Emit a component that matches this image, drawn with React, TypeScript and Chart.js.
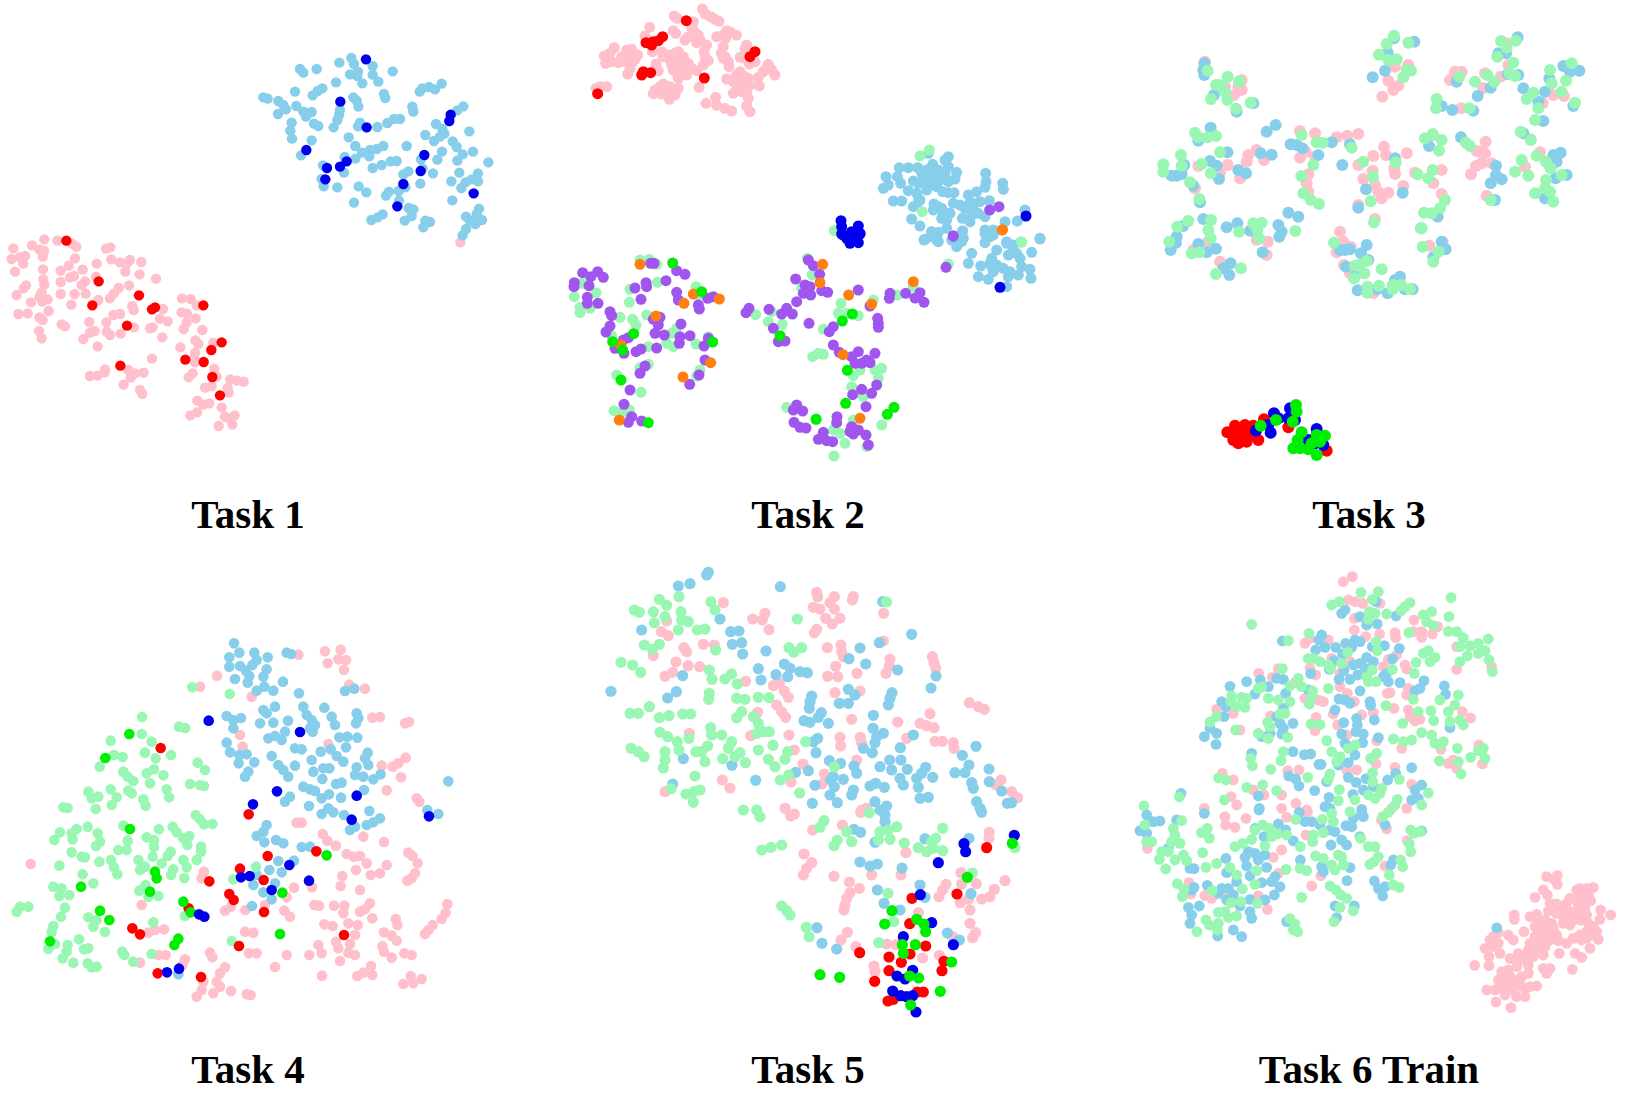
import React, { useEffect, useRef } from "react";
import { Chart, registerables } from "chart.js";
Chart.register(...registerables);

type P = number[];
const PINK = "#FFC0CB", SKY = "#87CEEB", MINT = "#99F6B3", RED = "#FF0000", BLUE = "#0000EE", LIME = "#00EE00", PURPLE = "#A055EE", ORANGE = "#FF8010";

const taskTitles = ["Task 1", "Task 2", "Task 3", "Task 4", "Task 5", "Task 6 Train"];

const t1Pink: P[] = [[40,655],[96,646],[133,628],[172,632],[119,659],[132,663],[215,640],[229,650],[128,680],[35,687],[60,681],[75,678],[70,701],[45,725],[129,718],[225,685],[206,707],[182,722],[248,719],[290,701],[318,656],[331,652],[334,688],[360,697],[390,690],[380,702],[424,696],[376,725],[419,733],[468,746],[130,748],[133,764],[182,756],[210,742],[222,738],[255,754],[245,765],[78,766],[71,775],[50,795],[125,787],[119,800],[143,808],[127,815],[93,817],[182,792],[224,792],[257,791],[214,824],[288,740],[295,810],[387,766],[356,774],[342,790],[330,805],[397,828],[401,840],[146,843],[55,852],[83,850],[118,862],[128,870],[340,855],[360,852],[268,876],[319,877],[402,892],[185,883],[195,889],[117,903],[125,925],[270,908],[284,903],[320,905],[330,915],[250,927],[362,911],[293,949],[458,892],[450,895],[480,866],[503,874],[489,837],[487,922],[546,805],[572,807],[590,826],[545,847],[561,851],[587,865],[560,878],[551,897],[607,900],[586,931],[595,942],[541,952],[640,938],[585,968],[583,985],[456,986],[585,997],[643,1017],[315,1018],[314,1027],[292,1037],[270,1038],[385,1020],[405,1030],[392,1043],[431,1028],[371,1064],[420,1080],[427,1092],[578,1030],[566,1042],[650,1040],[691,1048],[711,1052],[731,1055],[635,1068],[615,1073],[683,1074],[686,1088],[592,1112],[610,1124],[628,1120],[665,1132],[591,1147],[571,1156],[675,1160],[704,1156],[686,1165],[656,1188],[697,1184],[1381,637]];
const t1Sky: P[] = [[1054,84],[1062,102],[1018,98],[1118,108],[1178,124],[900,117],[910,128],[950,117],[1050,133],[1074,125],[1072,138],[1118,134],[1087,160],[1135,155],[1008,157],[967,175],[953,183],[938,196],[885,185],[790,202],[803,206],[835,213],[850,225],[858,238],[889,228],[1060,202],[1070,212],[1075,230],[1152,192],[1156,204],[1237,230],[1240,245],[1325,161],[1305,178],[1287,171],[1266,175],[1259,185],[1390,229],[1372,241],[1020,240],[1017,255],[1012,270],[1001,292],[910,245],[935,246],[918,260],[834,252],[875,278],[871,302],[876,326],[942,281],[955,288],[1080,278],[1074,289],[1132,291],[1162,279],[1182,267],[1200,267],[1308,282],[1327,297],[1333,311],[1320,320],[1302,333],[1276,315],[1408,304],[1046,322],[935,331],[903,376],[1066,348],[1086,368],[1066,386],[1034,381],[1110,360],[1130,357],[1150,348],[1108,379],[1220,348],[1358,334],[1370,351],[1326,365],[1388,373],[1419,365],[1372,392],[1312,389],[1263,388],[1465,397],[1118,414],[1145,405],[1172,394],[1190,393],[969,406],[1032,428],[965,447],[971,469],[1012,472],[1076,469],[1099,487],[1062,518],[1299,430],[1378,428],[1434,430],[1354,454],[1415,448],[1397,457],[1434,454],[1384,474],[1225,424],[1210,433],[1261,461],[1216,472],[1196,483],[1167,485],[1158,497],[1197,512],[1357,511],[1437,536],[1430,552],[1398,560],[1410,572],[1426,582],[1446,570],[1398,597],[1388,616],[1226,534],[1240,538],[1235,558],[1214,572],[1148,553],[1133,562],[1114,570],[1276,572],[1290,576],[1270,592],[1268,415]];
const t1Red: P[] = [[199,632],[296,754],[417,796],[277,826],[465,832],[456,838],[610,826],[381,887],[665,937],[634,960],[556,989],[611,996],[361,1007],[637,1041],[660,1096]];
const t1Blue: P[] = [[1098,88],[1021,215],[1100,292],[919,360],[1352,254],[1348,273],[1273,375],[1040,394],[1020,410],[981,414],[976,448],[1262,423],[1210,462],[1421,490],[1192,529]];

const t2aPink: P[] = [[427,27],[436,42],[452,50],[465,58],[477,64],[343,48],[352,55],[400,65],[396,85],[340,92],[347,100],[269,82],[255,108],[500,92],[470,110],[529,105],[415,105],[375,120],[385,110],[410,128],[440,135],[432,155],[497,115],[490,140],[484,160],[163,143],[133,168],[145,175],[137,190],[175,188],[215,148],[233,165],[205,165],[195,185],[215,190],[203,222],[210,205],[277,155],[305,155],[325,165],[355,155],[345,175],[365,210],[350,190],[385,190],[340,210],[365,180],[380,225],[355,235],[410,212],[445,182],[430,195],[288,192],[295,212],[490,175],[505,185],[507,200],[540,172],[560,135],[555,175],[585,185],[568,192],[625,193],[635,210],[645,225],[610,215],[595,232],[540,215],[500,237],[525,240],[545,250],[565,235],[545,275],[520,280],[565,295],[598,258],[417,262],[310,252],[300,260],[355,265],[345,285],[328,298],[280,281],[305,282],[320,275],[438,310],[467,292],[470,316],[495,325],[515,333],[560,318],[570,335],[140,260],[120,260],[108,265],[365,195],[375,205],[350,220],[360,225],[335,195],[370,170],[345,160],[330,180],[395,205],[530,225],[555,230],[530,255],[555,260],[570,255],[535,270],[520,245],[560,280],[185,170],[225,178],[200,150],[190,170],[150,160],[155,185],[310,170],[435,170],[495,170],[510,95],[490,105],[420,120],[402,95],[620,205],[575,175],[555,145],[285,270],[330,260],[340,275]];
const t2aSky: P[] = [[1165,470],[1105,460],[1155,480],[1018,503],[1045,503],[1073,503],[1118,493],[1100,510],[1135,510],[1165,500],[1190,517],[1185,537],[1165,545],[1012,530],[978,530],[985,555],[970,565],[1022,550],[1060,543],[1075,550],[1100,530],[1125,545],[1130,560],[1100,570],[1045,572],[1070,580],[1080,600],[1148,575],[1165,578],[1182,578],[1277,520],[1278,545],[1275,562],[1328,550],[1330,568],[1250,575],[1225,585],[1260,605],[1288,602],[1000,603],[1025,603],[1075,605],[1060,620],[1122,612],[1120,630],[1145,625],[1180,610],[1200,615],[1228,612],[1240,630],[1170,640],[1145,655],[1160,660],[1235,645],[1275,650],[1207,655],[1230,665],[1055,657],[1080,678],[1395,630],[1372,663],[1335,665],[1115,695],[1135,697],[1160,685],[1208,692],[1092,720],[1130,720],[1275,690],[1300,690],[1290,710],[1210,715],[1440,715],[1340,725],[1175,720],[1110,530],[1090,550],[1125,525],[1140,540],[1110,555],[1155,520],[1085,520],[1240,610],[1215,625],[1255,640],[1150,640],[1135,620]];
const t2aMint: P[] = [[1108,450],[1080,468],[1087,635],[823,692],[1383,725]];
const t2aPurple: P[] = [[1289,630],[1317,620],[1180,708]];
const t2aOrange: P[] = [[1327,689]];
const t2aRed: P[] = [[379,62],[308,110],[295,122],[280,125],[258,128],[275,135],[585,155],[570,170],[272,218],[245,225],[250,215],[433,234],[113,281]];
const t2aBlue: P[] = [[1398,648],[843,662],[845,680],[895,678],[875,695],[900,700],[850,705],[870,715],[890,715]];

const t2bSky: P[] = [[1095,28],[1130,20],[1115,5],[1135,35],[1205,10],[1205,35],[1190,50],[1275,10],[1300,15],[1275,38],[1340,40],[1360,45],[1440,27],[1415,67],[1310,60],[1235,70],[1345,75],[1380,85],[1295,85],[1225,100],[1262,108],[1295,110],[1330,115],[1385,110],[1410,118],[1255,140],[1285,148],[1345,140],[1413,145],[1375,135],[1300,125],[1340,170],[1115,20],[1290,100],[1310,105],[1350,125],[1370,70],[1360,60]];
const t2bMint: P[] = [[1385,37],[1165,102],[240,90],[268,88],[290,103],[65,160],[43,200],[108,188],[60,232],[60,248],[90,235],[210,178],[292,157],[208,217],[408,170],[415,195],[180,262],[260,255],[218,268],[228,285],[335,310],[350,295],[320,340],[340,350],[265,350],[408,342],[445,320],[170,435],[265,403],[240,413],[420,420],[410,438],[243,487],[162,542],[190,545],[208,540],[155,318],[742,85],[757,135],[725,175],[843,220],[835,250],[860,250],[895,257],[587,254],[635,245],[625,275],[667,283],[790,298],[940,210],[1012,195],[1060,170],[758,380],[790,373],[775,370],[965,415],[945,420],[955,445],[880,437],[900,420],[875,470],[910,500],[680,532],[880,570],[820,600],[840,610],[855,640],[920,650],[822,678],[965,585],[770,567]];
const t2bPurple: P[] = [[1180,18],[1158,112],[68,128],[113,125],[130,142],[92,140],[43,158],[42,170],[87,167],[82,202],[82,220],[114,220],[150,245],[155,257],[150,288],[138,306],[225,174],[258,158],[260,170],[243,208],[318,152],[272,100],[282,100],[350,122],[375,133],[350,187],[355,210],[443,205],[415,225],[418,237],[460,200],[300,262],[280,268],[295,285],[285,310],[313,315],[363,282],[360,320],[358,340],[390,317],[290,354],[205,323],[190,330],[165,355],[192,370],[228,365],[243,357],[432,348],[445,325],[435,390],[255,408],[240,430],[417,435],[389,463],[210,480],[192,523],[215,560],[205,577],[245,573],[745,90],[760,107],[779,133],[707,147],[735,165],[750,170],[730,190],[752,195],[785,182],[803,187],[710,215],[895,180],[930,228],[990,190],[988,205],[1037,190],[1065,204],[1080,188],[1092,217],[680,235],[665,252],[697,252],[627,238],[567,235],[558,248],[640,295],[747,280],[953,265],[955,280],[955,292],[820,290],[808,305],[655,335],[675,333],[820,345],[838,367],[875,380],[895,365],[945,370],[885,400],[905,400],[920,390],[930,398],[950,465],[935,490],[905,478],[878,494],[918,530],[710,525],[700,540],[728,543],[702,577],[720,592],[738,594],[831,560],[830,578],[790,607],[775,628],[800,632],[818,635],[875,590],[895,600],[880,612],[918,615],[925,645],[870,605]];
const t2bOrange: P[] = [[1327,0],[240,103],[400,192],[372,220],[478,207],[288,258],[182,344],[452,398],[369,441],[178,570],[788,103],[780,158],[866,195],[935,222],[1060,155],[849,374],[900,565]];
const t2bLime: P[] = [[338,99],[425,185],[221,311],[158,335],[188,360],[458,336],[183,450],[265,578],[660,317],[877,252],[847,273],[862,421],[857,520],[768,568],[982,553],[1002,532]];
const t2bBlue: P[] = [[845,12],[875,10],[900,12],[870,40],[895,38],[860,25],[880,25],[1320,172]];

const t3Pink: P[] = [[195,125],[305,180],[295,200],[305,210],[282,225],[255,200],[325,405],[350,390],[320,425],[372,420],[263,435],[240,460],[175,438],[300,475],[165,505],[480,333],[525,340],[590,352],[622,347],[655,342],[480,413],[497,395],[505,463],[500,490],[505,515],[525,410],[732,380],[700,408],[738,405],[800,400],[655,435],[698,452],[763,445],[765,462],[670,477],[705,495],[715,515],[745,518],[725,535],[790,498],[655,555],[705,597],[600,635],[590,697],[610,665],[632,680],[612,735],[630,760],[700,820],[745,182],[760,210],[775,197],[727,230],[805,135],[765,140],[945,155],[930,180],[965,155],[1030,205],[1035,160],[1082,170],[963,265],[1100,70],[1105,135],[1240,225],[1272,228],[1208,250],[1037,365],[1020,395],[1035,400],[1010,393],[1025,430],[1008,438],[993,463],[1055,430],[1172,358],[1155,440],[1200,397],[1040,527],[825,458],[905,450],[880,490],[905,522],[868,677],[908,665],[380,705],[383,665],[350,660],[160,690],[205,665],[240,725],[880,345]];
const t3Sky: P[] = [[193,130],[190,150],[193,165],[222,225],[212,323],[175,362],[340,250],[290,275],[262,397],[210,423],[230,437],[133,435],[95,467],[110,467],[125,462],[237,477],[295,450],[318,460],[160,497],[180,547],[190,597],[130,618],[110,650],[108,668],[92,690],[260,622],[292,610],[175,672],[228,686],[200,697],[250,745],[272,730],[268,765],[330,632],[368,697],[380,335],[407,315],[362,400],[395,404],[415,615],[425,635],[418,650],[445,578],[475,590],[452,373],[470,375],[487,385],[535,405],[575,367],[607,435],[630,373],[765,415],[678,508],[788,518],[655,563],[615,690],[600,690],[630,688],[663,700],[680,675],[685,720],[618,740],[645,768],[653,811],[743,820],[712,808],[765,780],[780,770],[795,808],[818,808],[867,378],[893,590],[843,625],[880,712],[905,665],[917,688],[762,55],[823,65],[743,98],[735,152],[698,172],[950,185],[1013,228],[1052,203],[1075,100],[1098,100],[1133,52],[1135,165],[1103,162],[905,258],[937,270],[1000,272],[1150,205],[1215,215],[1195,245],[1270,138],[1290,155],[1318,152],[1228,175],[1300,258],[1210,303],[1150,340],[963,352],[1068,437],[1068,465],[1052,490],[1085,478],[1065,540],[1240,405],[1262,398],[1250,425],[1280,465],[1247,475],[1215,535]];
const t3Mint: P[] = [[762,47],[740,72],[717,104],[805,68],[745,120],[770,118],[800,150],[813,152],[790,172],[203,152],[263,170],[240,195],[228,195],[297,184],[255,215],[262,240],[213,237],[288,266],[332,248],[165,338],[175,352],[203,352],[228,348],[240,397],[123,405],[70,433],[125,437],[70,455],[185,432],[213,460],[150,487],[178,537],[145,603],[112,620],[88,665],[213,600],[205,630],[212,655],[155,700],[178,697],[228,762],[303,745],[297,635],[340,610],[365,608],[352,630],[358,655],[466,633],[485,345],[530,367],[548,368],[520,435],[484,468],[635,383],[670,425],[767,427],[699,470],[490,520],[512,540],[537,552],[692,544],[702,607],[582,668],[645,737],[660,733],[680,723],[673,760],[725,748],[642,775],[682,800],[682,818],[717,797],[758,795],[783,795],[810,807],[758,808],[855,355],[878,342],[905,360],[897,392],[833,463],[878,450],[865,475],[915,540],[900,565],[852,578],[875,580],[845,625],[848,680],[896,695],[880,725],[958,170],[1005,185],[1042,165],[1063,185],[1108,160],[1125,168],[1120,128],[1083,63],[1100,83],[1127,62],[1072,110],[890,237],[888,265],[988,265],[1295,130],[1230,150],[1278,182],[1235,190],[1180,218],[1160,237],[1265,215],[1195,265],[1185,300],[1305,248],[1142,335],[1172,360],[978,368],[990,378],[1145,420],[1125,455],[1165,467],[1190,407],[1218,425],[1232,445],[1265,465],[1218,480],[1215,505],[1185,520],[1230,515],[1240,545],[1052,540]];
const t3bRed: P[] = [[82,127],[105,107],[135,105],[160,107],[115,160],[100,150],[125,130],[150,135],[175,150],[192,88],[110,130],[265,112],[380,182],[140,155]];
const t3bBlue: P[] = [[222,70],[235,85],[168,122],[205,105],[212,128],[270,55],[265,85],[285,90],[350,117],[325,150],[370,165],[350,135],[345,160]];
const t3bLime: P[] = [[182,107],[228,90],[288,45],[290,65],[278,95],[305,127],[293,150],[280,175],[300,175],[350,135],[375,137],[335,160],[325,178],[350,195],[360,155]];

const t4Pink: P[] = [[895,74],[975,64],[1022,59],[1038,90],[1015,88],[983,100],[1032,120],[651,137],[600,170],[1048,164],[1095,176],[755,200],[1117,263],[1140,261],[1215,280],[1227,276],[720,315],[728,350],[985,342],[1217,383],[1195,400],[1178,410],[1145,407],[1203,442],[1160,481],[92,702],[1250,505],[1258,515],[890,578],[905,578],[968,612],[982,632],[1008,647],[1090,620],[1152,636],[1225,668],[1237,677],[1253,700],[1040,672],[1062,680],[1080,678],[1100,700],[1068,720],[1160,705],[1140,730],[1112,735],[1245,730],[1235,745],[1222,752],[612,725],[605,745],[1027,738],[1022,768],[1080,780],[882,773],[936,772],[860,802],[425,825],[795,825],[693,830],[675,842],[736,840],[853,842],[870,860],[943,825],[957,827],[1002,827],[1033,827],[1030,850],[1110,820],[1095,838],[1080,845],[1117,865],[1342,822],[1337,848],[1325,867],[1187,867],[1192,885],[973,883],[998,888],[1045,880],[1073,885],[1298,885],[1285,900],[1275,912],[1065,915],[1152,907],[1175,917],[1190,932],[735,905],[760,908],[492,898],[465,900],[445,908],[1008,935],[1050,942],[1015,955],[955,945],[965,970],[1147,948],[1152,965],[1045,968],[1065,975],[1213,970],[1235,975],[1175,983],[1020,993],[928,975],[860,975],[747,970],[770,970],[630,968],[637,982],[475,975],[497,975],[555,988],[420,998],[547,1005],[825,1011],[1113,1008],[1117,1035],[1090,1028],[1072,1038],[966,1037],[1232,1038],[1265,1047],[1240,1060],[1210,1062],[675,1012],[660,1030],[650,1055],[660,1070],[610,1055],[605,1080],[590,1100],[640,1090],[693,1083],[740,1093],[752,1095]];
const t4Sky: P[] = [[702,40],[688,82],[718,68],[763,68],[803,82],[770,90],[757,105],[720,108],[688,110],[738,122],[748,138],[705,147],[743,158],[790,140],[800,118],[793,170],[770,182],[820,182],[849,155],[860,68],[873,72],[897,190],[1035,183],[1063,176],[680,258],[700,270],[723,264],[700,295],[790,240],[825,230],[800,250],[780,280],[820,278],[864,272],[910,230],[920,255],[935,270],[945,285],[930,295],[938,305],[973,233],[995,260],[1005,285],[1070,250],[1075,265],[1068,280],[1018,322],[1042,320],[1072,323],[805,325],[825,318],[855,305],[845,330],[680,338],[690,367],[718,375],[740,373],[716,400],[763,397],[745,425],[735,440],[885,355],[905,358],[1038,352],[815,378],[962,365],[992,358],[1010,378],[1030,395],[835,405],[850,420],[865,440],[885,407],[935,390],[940,425],[970,415],[988,415],[967,447],[1103,368],[1095,385],[1105,405],[1070,412],[1065,435],[1090,440],[1120,448],[1142,433],[1025,458],[1008,462],[910,470],[930,478],[945,483],[965,505],[987,493],[1023,503],[1092,480],[1345,454],[870,500],[855,515],[927,528],[965,552],[985,535],[1000,547],[1032,555],[1108,543],[1140,565],[1120,577],[1100,585],[1065,590],[1050,600],[1282,540],[1315,552],[800,585],[790,605],[770,618],[793,637],[828,630],[850,640],[905,651],[930,650],[835,693],[808,720],[845,727],[882,692],[825,760],[760,765],[790,787],[815,808],[756,828],[535,1033],[770,735]];
const t4Mint: P[] = [[426,261],[537,290],[555,294],[425,312],[332,332],[455,335],[342,375],[368,381],[435,368],[467,385],[513,375],[299,410],[370,425],[383,440],[400,453],[440,430],[462,418],[490,436],[450,460],[593,398],[615,420],[570,462],[600,465],[612,468],[265,485],[295,500],[275,505],[287,537],[332,478],[350,502],[335,525],[385,482],[395,490],[500,478],[507,502],[430,508],[437,527],[190,532],[203,534],[587,555],[600,568],[612,583],[637,582],[370,587],[263,590],[230,597],[215,610],[218,628],[180,607],[163,630],[293,610],[300,635],[288,648],[383,632],[355,660],[380,660],[477,598],[440,622],[462,630],[518,590],[530,607],[568,618],[550,625],[562,645],[462,650],[603,650],[603,665],[215,667],[245,680],[255,682],[178,707],[298,695],[333,690],[342,712],[352,733],[415,690],[435,710],[420,720],[458,680],[512,665],[503,678],[485,700],[550,690],[590,690],[560,712],[520,718],[513,735],[553,744],[248,733],[280,760],[160,770],[185,775],[178,798],[208,795],[418,782],[437,765],[475,798],[445,800],[60,830],[85,830],[50,845],[195,833],[183,860],[265,862],[290,870],[280,890],[160,888],[155,905],[315,906],[460,877],[237,928],[203,945],[145,957],[165,942],[200,965],[265,955],[252,958],[188,985],[220,998],[263,1000],[275,1012],[290,1010],[367,965],[373,975],[400,995],[455,972],[555,858],[695,933],[577,172],[689,192],[700,748],[768,710]];
const t4Red: P[] = [[482,354],[746,553],[803,678],[949,664],[720,716],[628,754],[791,750],[688,792],[701,810],[792,846],[566,835],[397,895],[420,913],[1032,915],[717,948],[473,1030],[603,1041]];
const t4Blue: P[] = [[626,272],[900,306],[831,484],[759,523],[1070,497],[1055,569],[1287,559],[868,705],[723,742],[749,738],[927,752],[815,780],[597,853],[613,860],[537,1016],[501,1027]];
const t4Lime: P[] = [[388,312],[316,384],[390,597],[980,676],[465,725],[470,745],[243,770],[450,785],[847,788],[300,842],[328,870],[550,815],[572,847],[150,934],[840,912],[535,926],[523,945]];

const t5aPink: P[] = [[650,97],[653,110],[703,110],[760,110],[757,120],[370,128],[690,128],[640,142],[660,147],[703,147],[851,160],[458,177],[495,160],[487,180],[677,175],[720,175],[697,192],[507,209],[650,208],[643,218],[200,183],[184,215],[205,227],[723,255],[725,275],[730,290],[682,263],[850,243],[310,253],[343,255],[252,263],[260,275],[160,287],[870,297],[868,318],[858,340],[997,290],[1002,308],[1007,325],[228,306],[218,337],[195,349],[264,317],[299,320],[707,319],[683,349],[713,350],[771,340],[437,364],[538,370],[520,377],[553,393],[565,412],[705,398],[780,393],[530,435],[545,455],[557,472],[473,457],[1108,428],[1135,440],[1153,448],[990,461],[755,478],[893,486],[960,490],[980,497],[1002,503],[567,525],[452,527],[720,532],[722,558],[781,532],[785,550],[268,520],[920,535],[1005,544],[1027,544],[1060,548],[1062,565],[583,570],[770,600],[609,612],[673,642],[666,672],[573,666],[367,660],[390,684],[195,695],[1203,660],[1188,675],[1235,695],[1253,713],[555,745],[785,750],[800,745]];
const t5aSky: P[] = [[325,37],[320,45],[235,78],[270,71],[541,80],[125,210],[360,177],[392,215],[417,213],[397,253],[425,248],[428,282],[498,273],[848,125],[935,223],[838,248],[780,264],[747,296],[797,312],[893,330],[1008,348],[993,384],[33,394],[248,347],[229,395],[203,414],[475,326],[483,360],[528,344],[553,312],[570,325],[563,350],[600,335],[622,338],[745,388],[765,405],[745,430],[718,430],[635,408],[630,425],[628,445],[664,458],[655,472],[685,490],[612,482],[630,487],[876,398],[870,415],[865,435],[820,466],[819,505],[850,520],[830,530],[825,548],[940,525],[653,535],[640,545],[648,578],[790,565],[817,578],[901,563],[1128,559],[1087,586],[250,596],[396,616],[869,600],[903,600],[840,620],[875,630],[922,628],[977,622],[965,640],[950,655],[998,652],[1107,615],[1095,638],[1065,638],[1167,627],[688,602],[722,610],[625,632],[587,637],[762,618],[770,640],[700,650],[730,658],[692,660],[703,680],[690,705],[712,728],[645,676],[467,661],[900,655],[910,675],[827,670],[810,678],[853,682],[955,682],[960,715],[985,712],[1115,668],[1120,685],[1168,665],[1205,693],[760,690],[755,705],[637,730],[825,725],[860,738],[1130,725],[1140,745],[1222,730],[1235,728],[218,672]];
const t5aMint: P[] = [[178,118],[200,136],[237,110],[103,150],[118,157],[160,155],[195,170],[163,188],[243,155],[245,180],[265,185],[235,210],[292,210],[315,207],[333,125],[345,150],[860,126],[592,177],[133,255],[178,253],[157,268],[347,270],[567,263],[605,263],[581,277],[63,307],[98,315],[122,337],[328,330],[336,358],[395,342],[375,357],[412,372],[328,400],[326,418],[475,412],[507,413],[410,415],[435,418],[425,455],[410,473],[148,440],[90,460],[115,460],[178,473],[207,467],[248,462],[272,462],[460,470],[475,490],[470,520],[490,515],[508,515],[180,517],[203,530],[332,503],[335,525],[365,525],[395,545],[232,545],[267,535],[237,570],[323,558],[288,575],[305,575],[315,605],[385,565],[420,578],[368,596],[405,590],[436,608],[93,565],[115,575],[132,590],[195,575],[195,600],[190,624],[475,570],[519,556],[563,575],[505,598],[555,598],[525,620],[617,545],[703,621],[566,645],[541,660],[285,648],[213,686],[300,690],[258,702],[282,695],[280,727],[599,699],[430,750],[470,750]];
const t5bPink: P[] = [[103,102],[92,108],[247,135],[158,150],[302,97],[688,157],[687,175],[438,218],[423,285],[335,285],[222,289],[132,222],[155,248],[140,265],[130,285],[603,278],[558,313],[548,330],[537,350],[649,311],[605,312],[735,302],[703,328],[690,350],[665,357],[625,358],[601,368],[630,390],[630,430],[647,458],[638,473],[578,470],[268,306],[298,325],[270,338],[260,355],[255,375],[252,390],[475,398],[262,457],[243,480],[288,500],[380,492],[408,494],[538,526],[488,534],[342,558],[345,575]];
const t5bSky: P[] = [[375,125],[345,187],[495,176],[627,175],[300,246],[330,258],[352,252],[426,264],[480,315],[495,352],[352,330],[372,370],[420,390],[633,341],[171,443],[186,490],[230,507],[562,459],[598,480],[282,148],[302,157],[360,90],[375,105],[665,97]];
const t5bMint: P[] = [[328,98],[192,122],[180,142],[260,155],[275,185],[232,180],[222,197],[33,202],[65,195],[5,210],[0,110],[360,155],[385,150],[410,140],[355,180],[390,178],[433,189],[475,203],[500,215],[515,185],[527,175],[548,145],[548,212],[520,205],[765,203],[637,279],[384,340],[65,378],[80,392],[90,405],[401,425],[139,442],[147,470],[356,488]];
const t5bRed: P[] = [[680,203],[456,355],[591,342],[449,431],[299,518],[497,498],[387,531],[450,522],[424,547],[552,544],[546,572],[387,572],[344,604],[490,636],[472,636],[384,663],[400,658]];
const t5bBlue: P[] = [[763,166],[612,191],[617,215],[535,248],[481,344],[515,428],[430,470],[580,494],[458,571],[411,588],[435,597],[398,633],[422,647],[440,650],[458,647],[468,696]];
const t5bLime: P[] = [[757,190],[622,292],[396,392],[374,432],[470,418],[492,432],[497,455],[427,494],[466,494],[430,520],[575,546],[180,584],[239,592],[449,588],[476,594],[541,634],[452,675]];

const t6aPink: P[] = [[670,65],[697,50],[685,120],[705,125],[728,130],[780,130],[882,180],[703,175],[703,210],[737,230],[779,222],[825,218],[827,233],[880,215],[905,215],[905,232],[937,222],[953,200],[555,250],[625,240],[570,235],[1010,260],[1115,320],[1010,328],[855,315],[860,327],[805,298],[830,285],[790,320],[690,305],[635,295],[570,325],[587,345],[475,326],[416,340],[457,352],[660,340],[660,380],[525,368],[555,415],[595,420],[610,425],[802,400],[810,398],[860,405],[865,385],[822,445],[682,400],[703,425],[640,462],[760,458],[725,465],[653,495],[865,450],[870,470],[885,483],[900,478],[1052,474],[1027,455],[290,448],[340,460],[452,468],[360,510],[588,472],[585,512],[770,543],[845,565],[963,568],[1077,555],[1087,612],[768,612],[710,630],[825,622],[1000,600],[985,610],[1010,625],[537,630],[503,632],[680,630],[340,660],[307,640],[400,690],[432,705],[485,705],[875,673],[333,710],[350,735],[528,730],[253,745],[485,745],[560,750],[815,745],[860,745],[680,525]];
const t6aSky: P[] = [[665,160],[675,150],[720,170],[740,195],[772,192],[768,125],[828,168],[605,225],[597,240],[587,270],[615,262],[647,262],[677,250],[705,240],[720,245],[695,262],[668,282],[757,260],[793,257],[838,265],[818,296],[740,292],[760,305],[720,310],[700,315],[735,325],[672,332],[628,328],[642,302],[713,345],[690,358],[657,358],[572,341],[487,243],[380,365],[470,355],[490,358],[421,360],[445,380],[405,402],[330,379],[497,400],[565,390],[720,393],[800,340],[790,350],[805,365],[840,368],[912,362],[900,385],[885,392],[973,378],[977,403],[750,425],[752,436],[657,417],[675,420],[690,430],[645,450],[305,425],[318,440],[312,470],[490,445],[470,470],[480,490],[490,505],[519,490],[763,480],[710,475],[712,495],[671,488],[708,515],[665,522],[730,522],[775,533],[728,548],[675,550],[253,530],[270,505],[290,520],[288,553],[450,520],[425,530],[485,522],[990,503],[395,580],[519,575],[553,584],[572,582],[597,613],[603,613],[655,615],[705,585],[685,608],[875,623],[827,640],[803,660],[738,656],[685,652],[708,667],[506,648],[527,657],[537,678],[584,692],[627,712],[620,665],[730,690],[699,703],[415,708],[885,690],[905,675],[895,715],[875,720],[183,700],[418,745],[615,740],[630,745],[725,748],[760,680]];
const t6aMint: P[] = [[723,97],[775,95],[757,118],[870,128],[855,140],[843,152],[635,135],[658,125],[993,113],[395,193],[748,155],[765,160],[745,178],[800,162],[987,170],[910,165],[935,155],[920,185],[940,197],[867,218],[985,214],[1010,215],[1030,233],[1020,260],[1050,258],[1075,250],[1105,237],[1095,272],[1075,280],[1042,288],[1020,305],[1107,300],[1117,335],[505,242],[567,220],[768,245],[772,272],[683,277],[565,296],[580,295],[600,305],[625,315],[632,325],[665,310],[757,330],[817,328],[740,350],[745,365],[768,365],[883,340],[888,307],[910,280],[925,272],[945,292],[930,305],[487,326],[535,355],[545,380],[510,378],[425,381],[415,385],[625,385],[578,393],[575,410],[568,432],[445,415],[475,420],[510,425],[495,460],[480,462],[335,408],[333,425],[365,412],[380,415],[350,440],[375,442],[289,470],[270,486],[798,437],[880,418],[895,455],[848,490],[933,452],[941,482],[960,420],[1015,405],[1005,435],[985,455],[990,485],[1020,480],[1030,495],[347,510],[443,487],[450,500],[415,520],[445,535],[503,532],[573,492],[600,494],[620,542],[905,518],[935,525],[820,537],[850,545],[875,540],[945,550],[970,545],[960,555],[685,565],[705,555],[635,575],[660,590],[650,605],[490,575],[483,602],[770,580],[752,595],[392,595],[397,618],[1012,565],[1015,605],[1090,565],[1075,572],[1052,592],[1095,595],[958,603],[1023,642],[452,628],[296,654],[318,660],[630,642],[625,658],[563,652],[758,638],[758,665],[838,658],[380,682],[428,675],[470,692],[658,689],[745,705],[785,685],[780,700],[765,715],[925,699],[178,711],[313,720],[905,735],[705,720],[655,722],[832,718],[825,735],[72,738]];
const t6bPink: P[] = [[315,110],[345,142],[317,135],[378,115],[500,112],[562,95],[558,165],[485,210],[460,232],[475,280],[603,287],[575,318],[795,258],[784,120],[800,147],[862,182],[82,205],[207,308],[213,342],[255,347],[275,355],[313,345],[415,347],[442,388],[1280,290],[1312,286],[1300,297],[1312,313],[1270,330],[1282,345],[1245,352],[1380,325],[1400,325],[1420,322],[1385,345],[1412,362],[1350,355],[1442,390],[1472,405],[1440,418],[1310,372],[1330,385],[1350,395],[1375,375],[1395,385],[1400,405],[1285,393],[1250,403],[1230,410],[1183,405],[1183,418],[1310,400],[1275,420],[1350,435],[1380,420],[1405,430],[1430,455],[1400,455],[1420,465],[1435,478],[1385,480],[1360,475],[1340,490],[1295,430],[1245,440],[1265,450],[1285,460],[1310,465],[1315,482],[1245,470],[1212,455],[1135,458],[1165,465],[1180,480],[1110,480],[1135,490],[1095,505],[1140,520],[1107,530],[1107,557],[1064,556],[1170,535],[1195,520],[1225,510],[1245,505],[1275,500],[1270,525],[1240,530],[1225,555],[1190,560],[1165,570],[1145,575],[1270,565],[1290,565],[1280,580],[1318,520],[1365,520],[1385,532],[1410,505],[1357,568],[1225,580],[1205,590],[1135,600],[1165,610],[1190,620],[1170,630],[1215,625],[1250,618],[1190,650],[1215,650],[1100,630],[1125,630],[1155,645],[1128,666],[1173,683],[1385,420],[1355,405],[1260,430],[1280,440],[1300,445],[1330,410],[1370,395],[1390,360],[1405,345],[1370,330],[1360,420],[1410,440],[1380,465],[1400,475],[1250,420],[1230,490],[1250,490],[1220,530],[1200,540],[1250,515],[1170,590],[1150,590],[1180,600],[1200,615],[1230,620],[1150,625],[1140,620],[1270,470],[1290,480],[1340,370],[1370,360],[1290,370],[1330,430],[1420,440],[1120,500],[1120,470]];
const t6bSky: P[] = [[1130,444],[253,100],[417,90],[80,105],[120,123],[100,125],[60,152],[80,160],[170,120],[538,97],[475,132],[405,145],[497,150],[432,170],[520,183],[555,125],[575,125],[600,135],[630,150],[645,155],[665,180],[680,195],[720,170],[725,100],[700,115],[730,110],[695,140],[678,137],[795,135],[905,153],[633,195],[145,205],[385,215],[405,220],[415,240],[375,232],[435,225],[440,262],[380,258],[318,235],[320,278],[541,240],[605,260],[610,275],[690,263],[820,240],[812,255],[222,266],[210,265],[390,288],[350,305],[425,308],[465,290],[455,305],[480,320],[262,316],[222,322],[215,330],[305,325],[325,325],[340,345],[295,340],[320,360],[360,378],[390,358],[435,360],[463,345],[681,302],[763,303],[775,325],[795,320],[788,348],[238,378],[205,382],[215,405],[210,430],[390,395],[395,415],[340,450],[365,470],[293,468],[500,425],[650,413],[645,378],[703,378]];
const t6bMint: P[] = [[160,145],[165,165],[185,122],[75,135],[80,185],[95,185],[245,158],[262,145],[268,175],[155,185],[180,190],[125,215],[118,238],[145,215],[137,267],[165,240],[190,225],[200,242],[248,218],[258,262],[290,250],[330,262],[350,285],[345,200],[368,190],[395,178],[435,198],[405,150],[428,135],[448,145],[455,170],[472,162],[500,165],[527,118],[580,165],[578,185],[607,118],[610,158],[635,100],[640,125],[690,95],[655,225],[665,230],[587,228],[610,235],[635,255],[645,270],[670,255],[541,200],[540,265],[560,272],[498,268],[410,272],[722,175],[745,200],[765,200],[775,230],[762,245],[750,253],[788,110],[805,97],[872,150],[882,160],[900,155],[868,192],[872,215],[842,240],[848,260],[808,285],[820,315],[838,322],[172,311],[192,328],[187,350],[277,332],[367,327],[405,313],[333,368],[363,365],[412,370],[630,318],[648,330],[662,345],[680,355],[545,352],[660,382],[700,392],[642,425],[510,416],[525,432],[520,450],[533,455],[295,397],[315,395],[325,412],[350,408],[258,420],[268,435],[295,430],[292,450],[231,455]];

type Panel = { left: number; top: number; width: number; height: number; radius: number; series: [string, P[]][] };
const panels: Panel[] = [
  { left: 0, top: 30, width: 500, height: 410, radius: 5.2, series: [[PINK, t1Pink], [SKY, t1Sky], [RED, t1Red], [BLUE, t1Blue]] },
  { left: 560, top: 0, width: 500, height: 240, radius: 5.5, series: [[PINK, t2aPink], [SKY, t2aSky], [MINT, t2aMint], [PURPLE, t2aPurple], [ORANGE, t2aOrange], [RED, t2aRed], [BLUE, t2aBlue]] },
  { left: 560, top: 230, width: 500, height: 240, radius: 5.5, series: [[SKY, t2bSky], [MINT, t2bMint], [PURPLE, t2bPurple], [ORANGE, t2bOrange], [LIME, t2bLime], [BLUE, t2bBlue]] },
  { left: 1140, top: 20, width: 470, height: 290, radius: 6, series: [[PINK, t3Pink], [SKY, t3Sky], [MINT, t3Mint]] },
  { left: 1200, top: 390, width: 150, height: 80, radius: 6, series: [[RED, t3bRed], [BLUE, t3bBlue], [LIME, t3bLime]] },
  { left: 0, top: 630, width: 470, height: 380, radius: 5.3, series: [[PINK, t4Pink], [SKY, t4Sky], [MINT, t4Mint], [RED, t4Red], [LIME, t4Lime], [BLUE, t4Blue]] },
  { left: 600, top: 560, width: 430, height: 250, radius: 5.6, series: [[PINK, t5aPink], [SKY, t5aSky], [MINT, t5aMint]] },
  { left: 760, top: 780, width: 280, height: 240, radius: 5.6, series: [[PINK, t5bPink], [SKY, t5bSky], [MINT, t5bMint], [RED, t5bRed], [BLUE, t5bBlue], [LIME, t5bLime]] },
  { left: 1120, top: 560, width: 400, height: 250, radius: 5.4, series: [[PINK, t6aPink], [SKY, t6aSky], [MINT, t6aMint]] },
  { left: 1120, top: 780, width: 500, height: 240, radius: 5.4, series: [[PINK, t6bPink], [SKY, t6bSky], [MINT, t6bMint]] },
];

const PAD = 10;
const titleSpots = [[248, 527], [808, 527], [1369, 527], [248, 1082], [808, 1082], [1369, 1082]];

function Scatter({ p }: { p: Panel }) {
  const ref = useRef<HTMLCanvasElement>(null);
  useEffect(() => {
    const chart = new Chart(ref.current!, {
      type: "scatter",
      data: {
        datasets: p.series.map(([color, pts], i) => ({
          label: color + i,
          data: pts.map(([x, y]) => ({ x, y })),
          backgroundColor: color,
          borderWidth: 0,
          pointRadius: p.radius,
          pointHoverRadius: p.radius,
          order: p.series.length - i,
          clip: false as any,
        })),
      },
      options: {
        responsive: false,
        animation: false,
        events: [],
        layout: { padding: 0, autoPadding: false },
        plugins: { legend: { display: false }, tooltip: { enabled: false }, title: { display: false } },
        scales: {
          x: { type: "linear", display: false, min: -PAD * 3, max: (p.width + PAD) * 3 },
          y: { type: "linear", display: false, reverse: true, min: -PAD * 3, max: (p.height + PAD) * 3 },
        },
      },
    });
    return () => chart.destroy();
  }, [p]);
  return (
    <canvas
      ref={ref}
      width={p.width + 2 * PAD}
      height={p.height + 2 * PAD}
      style={{ position: "absolute", left: p.left - PAD, top: p.top - PAD }}
    />
  );
}

export default function App() {
  return (
    <div style={{ position: "absolute", left: 0, top: 0, width: 1625, height: 1096, background: "#fff", overflow: "hidden" }}>
      {panels.map((p, i) => <Scatter key={i} p={p} />)}
      {taskTitles.map((t, i) => (
        <div
          key={t}
          style={{
            position: "absolute",
            left: titleSpots[i][0] - 200,
            width: 400,
            top: titleSpots[i][1] - 36,
            lineHeight: "46px",
            textAlign: "center",
            fontFamily: "'Liberation Serif', serif",
            fontWeight: 700,
            fontSize: 41,
            color: "#000",
          }}
        >
          {t}
        </div>
      ))}
    </div>
  );
}
